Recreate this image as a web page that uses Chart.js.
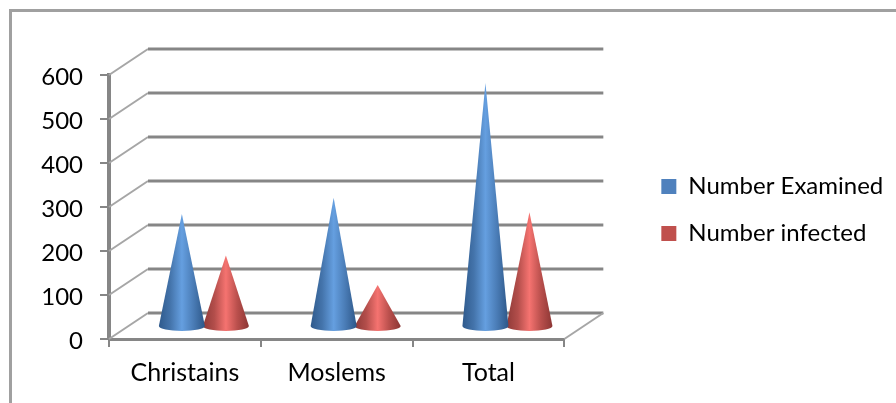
<!DOCTYPE html>
<html lang="en">
<head>
  <meta charset="UTF-8">
  <title>Number examined and infected</title>
  <script src="https://cdn.jsdelivr.net/npm/chart.js"></script>
  <style>
    html, body { margin: 0; padding: 0; background: #fff; overflow: hidden; }
    canvas { display: block; }
  </style>
</head>
<body>
<canvas id="chart" width="896" height="403"></canvas>

<script>
  const categories = ['Christains', 'Moslems', 'Total'];
  const numberExamined = [268, 305, 566];
  const numberInfected = [174, 107, 272];
  const tickStep = 100;
  const axisMax = 600;

  // offset of the back wall from the front axes, in px
  const depthX = 39;
  const depthY = -26;
  // cones stand part way into the floor
  const coneX = 19;
  const coneY = -7;

  const gridColor = '#868686';
  const depthColor = '#a6a6a6';

  const shades = [
    ['#2f5a8c', '#4474ab', '#659fe0', '#4a7cb6', '#2d5788'],
    ['#8f3a38', '#b34e4b', '#f57370', '#b94f4c', '#8c3634']
  ];

  function line(ctx, color, x1, y1, x2, y2) {
    ctx.strokeStyle = color;
    ctx.beginPath();
    ctx.moveTo(x1, y1);
    ctx.lineTo(x2, y2);
    ctx.stroke();
  }

  // frame and the 3D walls, drawn behind the cones
  const wallPlugin = {
    id: 'walls',
    // legend box is capped by the layout, stop it clipping its own text
    afterLayout(chart) {
      chart.legend.right = chart.width;
    },
    beforeDatasetsDraw(chart) {
      const { ctx, chartArea, scales } = chart;
      const { left, right } = chartArea;
      ctx.save();
      ctx.lineWidth = 3;
      ctx.strokeStyle = '#a0a0a0';
      ctx.beginPath();
      ctx.moveTo(10.5, 403);
      ctx.lineTo(10.5, 10.5);
      ctx.lineTo(896, 10.5);
      ctx.stroke();

      scales.y.ticks.forEach(t => {
        const y = scales.y.getPixelForValue(t.value);
        ctx.lineWidth = 2;
        line(ctx, depthColor, left, y, left + depthX, y + depthY);
        ctx.lineWidth = 3;
        line(ctx, gridColor, left + depthX, y + depthY, right + depthX, y + depthY);
      });
      const y0 = scales.y.getPixelForValue(0);
      ctx.lineWidth = 2;
      line(ctx, depthColor, right, y0, right + depthX, y0 + depthY);
      ctx.restore();
    },
    // each bar element is painted as a cone
    beforeDatasetDraw(chart, args) {
      const { ctx } = chart;
      const stops = shades[args.index];
      args.meta.data.forEach(bar => {
        const cx = bar.x + coneX;
        const half = bar.width / 2 + 1;
        const tip = bar.y + coneY;
        const base = bar.base + coneY;
        const ry = 5;
        const g = ctx.createLinearGradient(cx - half, 0, cx + half, 0);
        stops.forEach((c, i) => g.addColorStop(i / (stops.length - 1), c));
        ctx.save();
        ctx.fillStyle = g;
        ctx.beginPath();
        ctx.moveTo(cx, tip);
        ctx.lineTo(cx + half, base - ry);
        ctx.ellipse(cx, base - ry, half, ry, 0, 0, Math.PI);
        ctx.closePath();
        ctx.fill();
        ctx.restore();
      });
      return false;
    }
  };

  new Chart(document.getElementById('chart'), {
    type: 'bar',
    data: {
      labels: categories,
      datasets: [
        { label: 'Number Examined', data: numberExamined, backgroundColor: '#4f81bd' },
        { label: 'Number infected', data: numberInfected, backgroundColor: '#c0504d' }
      ]
    },
    options: {
      responsive: false,
      animation: false,
      layout: { padding: { top: 75, left: 10, right: 132, bottom: 14 } },
      datasets: { bar: { categoryPercentage: 0.58, barPercentage: 1 } },
      scales: {
        x: {
          grid: { drawOnChartArea: false, color: gridColor, tickLength: 8, lineWidth: 2 },
          border: { color: gridColor, width: 3 },
          ticks: { color: '#000', font: { family: 'Lato', size: 25 }, padding: 11, maxRotation: 0 },
          afterFit(s) { s.height = 50; }
        },
        y: {
          min: 0,
          max: axisMax,
          grid: { drawOnChartArea: false, color: gridColor, tickLength: 9, lineWidth: 2 },
          border: { color: gridColor, width: 4 },
          ticks: { stepSize: tickStep, color: '#000', font: { family: 'Lato', size: 24 }, padding: 17, labelOffset: 2 },
          afterFit(s) { s.width = 99; }
        },
        // empty axis, keeps the gap between plot and legend
        gap: {
          position: 'right',
          display: true,
          grid: { display: false },
          border: { display: false },
          ticks: { display: false },
          afterFit(s) { s.width = 74; }
        }
      },
      plugins: {
        legend: {
          position: 'right',
          fullSize: false,
          title: { display: true, text: '', font: { size: 5 }, padding: 0 },
          labels: {
            boxWidth: 15,
            boxHeight: 15,
            padding: 23,
            color: '#000',
            font: { family: 'Lato', size: 24 }
          }
        },
        tooltip: { enabled: false }
      }
    },
    plugins: [wallPlugin]
  });
</script>
</body>
</html>
